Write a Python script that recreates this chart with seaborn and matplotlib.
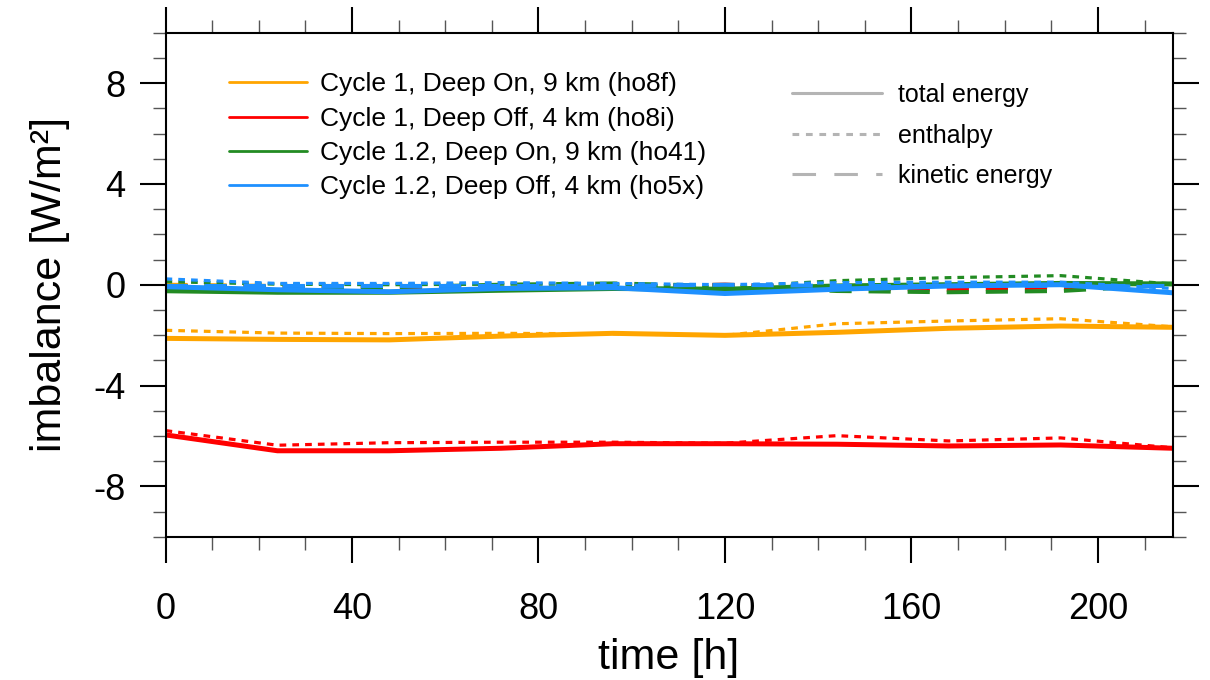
import numpy as np
import pandas as pd
import matplotlib
matplotlib.use("Agg")
import matplotlib.pyplot as plt
from matplotlib.lines import Line2D
import seaborn as sns

# ---- data -----------------------------------------------------------------
time_h = [0, 24, 48, 72, 96, 120, 144, 168, 192, 216]

runs = [
    "Cycle 1, Deep On, 9 km (ho8f)",
    "Cycle 1, Deep Off, 4 km (ho8i)",
    "Cycle 1.2, Deep On, 9 km (ho41)",
    "Cycle 1.2, Deep Off, 4 km (ho5x)",
]
run_colors = ["#FFA500", "#FF0000", "#228B22", "#1E90FF"]
components = ["total energy", "enthalpy", "kinetic energy"]

ho8f_total = [-2.13, -2.17, -2.19, -2.04, -1.93, -2.01, -1.89, -1.73, -1.64, -1.69]
ho8f_enth = [-1.81, -1.92, -1.94, -1.93, -1.95, -2.01, -1.55, -1.44, -1.35, -1.67]
ho8f_kin = [0.00, -0.05, -0.10, -0.10, -0.05, 0.00, -0.10, -0.10, -0.05, 0.00]

ho8i_total = [-5.96, -6.59, -6.59, -6.49, -6.31, -6.31, -6.33, -6.40, -6.36, -6.49]
ho8i_enth = [-5.79, -6.37, -6.27, -6.25, -6.25, -6.29, -5.99, -6.20, -6.08, -6.47]
ho8i_kin = [-0.05, -0.10, -0.15, -0.15, -0.10, 0.00, -0.15, -0.20, -0.10, 0.00]

ho41_total = [-0.24, -0.30, -0.30, -0.22, -0.15, -0.18, -0.05, 0.00, 0.05, 0.03]
ho41_enth = [0.12, 0.02, 0.00, 0.02, 0.02, -0.10, 0.16, 0.28, 0.36, 0.03]
ho41_kin = [-0.05, -0.10, -0.10, 0.00, 0.05, -0.05, -0.25, -0.30, -0.25, 0.00]

ho5x_total = [-0.08, -0.20, -0.28, -0.15, -0.12, -0.35, -0.18, -0.05, 0.00, -0.32]
ho5x_enth = [0.23, 0.05, 0.05, 0.08, 0.05, 0.00, 0.08, 0.10, 0.10, -0.15]
ho5x_kin = [-0.05, -0.05, -0.05, -0.05, -0.05, 0.00, -0.05, -0.05, -0.05, -0.05]

series = {
    runs[0]: [ho8f_total, ho8f_enth, ho8f_kin],
    runs[1]: [ho8i_total, ho8i_enth, ho8i_kin],
    runs[2]: [ho41_total, ho41_enth, ho41_kin],
    runs[3]: [ho5x_total, ho5x_enth, ho5x_kin],
}

rows = []
for run in runs:
    for comp, vals in zip(components, series[run]):
        for t, v in zip(time_h, vals):
            rows.append({"time": t, "imbalance": v, "run": run, "component": comp})
df = pd.DataFrame(rows)

# ---- style ----------------------------------------------------------------
sns.set_theme(style="white")
plt.rcParams["font.family"] = ["Liberation Sans", "DejaVu Sans"]
plt.rcParams["axes.unicode_minus"] = False
plt.rcParams["text.color"] = "black"
plt.rcParams["axes.labelcolor"] = "black"
plt.rcParams["xtick.labelcolor"] = "black"
plt.rcParams["ytick.labelcolor"] = "black"

fig = plt.figure(figsize=(12.1, 6.8), dpi=100)
ax = fig.add_axes([165.5 / 1210, 1 - 536.7 / 680, 1007 / 1210, 504 / 680])

line_dashes = {"total energy": "", "enthalpy": (2.1, 1.9), "kinetic energy": (5.5, 4.2)}
line_sizes = {"total energy": 3.6, "enthalpy": 2.3, "kinetic energy": 2.9}

sns.lineplot(
    data=df, x="time", y="imbalance",
    hue="run", hue_order=runs, palette=run_colors,
    style="component", style_order=components, dashes=line_dashes,
    size="component", size_order=components, sizes=line_sizes,
    legend=False, ax=ax, estimator=None, sort=False,
)

# ---- axes -----------------------------------------------------------------
ax.set_xlim(0, 216)
ax.set_ylim(-10, 10)
ax.set_xticks(np.arange(0, 201, 40))
ax.set_xticks(np.arange(0, 217, 10), minor=True)
ax.set_yticks(np.arange(-8, 9, 4))
ax.set_yticks(np.arange(-10, 11, 1), minor=True)

for sp in ax.spines.values():
    sp.set_color("black")
    sp.set_linewidth(1.5)

ax.tick_params(which="major", direction="out", length=18.7, width=1.5, color="black",
               top=True, right=True, bottom=True, left=True, labelsize=26,
               labelcolor="black")
ax.tick_params(which="minor", direction="out", length=9.4, width=1.0, color="#555555",
               top=True, right=True, bottom=True, left=True)
ax.tick_params(axis="x", which="major", pad=21)
ax.tick_params(axis="y", which="major", pad=10)

ax.set_xlabel("time [h]", fontsize=31, labelpad=8, color="black")
ax.set_ylabel("imbalance [W/m²]", fontsize=31, labelpad=17, color="black")

# ---- legends --------------------------------------------------------------
run_handles = [Line2D([], [], color=c, lw=2.0) for c in run_colors]
leg1 = ax.legend(run_handles, runs, loc="upper left",
                 bbox_to_anchor=((229 - 165.5) / 1007, (536.7 - 72.5) / 504),
                 frameon=False, fontsize=19, handlelength=2.95, handletextpad=0.49,
                 labelspacing=0.39, borderpad=0, borderaxespad=0)
for txt in leg1.get_texts():
    txt.set_color("black")
ax.add_artist(leg1)

comp_handles = [
    Line2D([], [], color="#b4b4b4", lw=2.2, linestyle="-"),
    Line2D([], [], color="#b4b4b4", lw=2.2, linestyle=(0, (2.2, 2.2))),
    Line2D([], [], color="#b4b4b4", lw=2.2, linestyle=(0, (7.7, 6.0))),
]
leg2 = ax.legend(comp_handles, components, loc="upper left",
                 bbox_to_anchor=((792 - 165.5) / 1007, (536.7 - 83) / 504),
                 frameon=False, fontsize=18, handlelength=3.6, handletextpad=0.64,
                 labelspacing=0.66, borderpad=0, borderaxespad=0)
for txt in leg2.get_texts():
    txt.set_color("black")

fig.savefig("out.png", dpi=100, facecolor="white")
